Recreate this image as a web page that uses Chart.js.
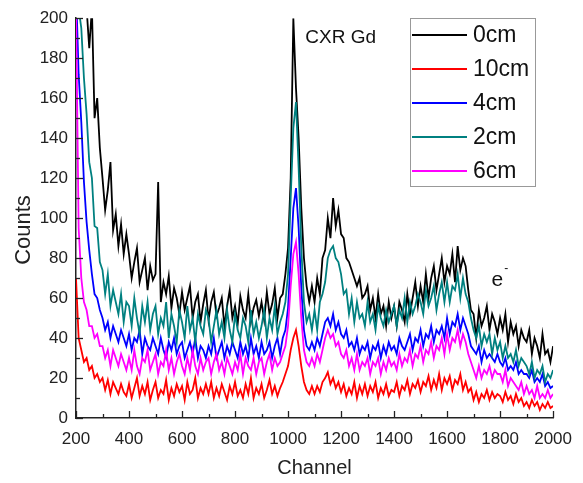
<!DOCTYPE html>
<html>
<head>
<meta charset="utf-8">
<title>Spectra</title>
<script src="https://cdn.jsdelivr.net/npm/chart.js@4.4.1/dist/chart.umd.min.js"></script>
<style>
  html, body { margin: 0; padding: 0; background: #fff; }
  #wrap { width: 583px; height: 483px; }
</style>
</head>
<body>
<div id="wrap"><canvas id="spectrum"></canvas></div>
<script>
// channel grid (every 10 channels, 200 .. 2000)
const channels = [];
for (let c = 200; c <= 2000; c += 10) channels.push(c);

// counts, one row = 100 channels
const counts0cm = [
  290, 270, 250, 225, 205, 185, 205, 150, 160, 135,
  120, 104, 114, 128, 94, 102, 86, 97, 82, 92,
  82, 70, 78, 85, 68, 74, 80, 64, 76, 69,
  72, 118, 58, 68, 62, 71, 55, 65, 60, 52,
  63, 54, 60, 66, 50, 58, 62, 48, 57, 64,
  49, 58, 63, 51, 55, 60, 46, 56, 64, 50,
  56, 47, 61, 54, 50, 62, 48, 55, 59, 51,
  58, 49, 63, 52, 57, 65, 50, 60, 62, 72,
  85, 120, 200, 165, 140, 105, 80, 66, 58, 66,
  58, 70, 62, 80, 84, 100, 90, 110, 96, 104,
  92, 90, 80, 78, 74, 70, 66, 70, 60, 62,
  66, 54, 60, 50, 62, 52, 56, 46, 58, 50,
  56, 46, 58, 54, 48, 62, 52, 60, 68, 56,
  66, 58, 72, 60, 70, 76, 64, 72, 80, 68,
  76, 72, 82, 68, 86, 74, 80, 76, 64, 54,
  52, 40, 54, 46, 50, 56, 44, 52, 48, 42,
  50, 44, 52, 38, 48, 42, 46, 36, 44, 40,
  38, 44, 32, 40, 36, 30, 42, 32, 34, 28,
  36
];
const counts10cm = [
  70, 40, 34, 28, 30, 24, 26, 20, 22, 18,
  20, 14, 19, 12, 18, 15, 12, 17, 13, 11,
  17, 10, 15, 20, 11, 16, 12, 18, 9, 14,
  18, 10, 14, 12, 19, 9, 15, 11, 17, 13,
  16, 9, 18, 12, 14, 20, 10, 15, 12, 17,
  12, 18, 10, 15, 11, 17, 13, 9, 16, 12,
  18, 11, 14, 10, 17, 12, 20, 10, 15, 12,
  17, 10, 14, 19, 12, 16, 11, 15, 18, 22,
  26, 34, 40, 44, 36, 26, 18, 14, 12, 16,
  12, 16, 13, 18, 20, 23, 17, 20, 15, 18,
  13, 17, 11, 15, 12, 18, 10, 16, 12, 17,
  11, 16, 13, 18, 10, 15, 12, 17, 11, 14,
  13, 18, 11, 16, 14, 19, 12, 17, 15, 19,
  13, 18, 16, 21, 14, 19, 15, 22, 14, 20,
  17, 21, 14, 19, 17, 22, 14, 18, 13, 15,
  9, 13, 8, 12, 10, 14, 9, 13, 10, 12,
  11, 8, 13, 9, 11, 7, 12, 8, 10, 6,
  8, 5, 9, 6, 8, 4, 7, 5, 8, 5,
  6
];
const counts4cm = [
  215, 172, 148, 118, 98, 84, 72, 62, 60, 54,
  50, 44, 48, 40, 46, 42, 38, 44, 40, 36,
  42, 34, 40, 38, 44, 32, 40, 36, 34, 40,
  36, 32, 40, 34, 30, 38, 34, 40, 32, 36,
  38, 30, 34, 38, 32, 40, 30, 36, 34, 30,
  36, 32, 40, 30, 34, 38, 30, 36, 32, 38,
  34, 30, 38, 32, 36, 30, 40, 32, 36, 30,
  38, 32, 34, 38, 30, 36, 40, 32, 40, 44,
  55, 80, 105, 115, 95, 65, 44, 36, 34, 38,
  34, 40, 36, 42, 48, 50, 46, 52, 44, 48,
  42, 40, 44, 36, 38, 34, 40, 32, 36, 34,
  38, 30, 36, 34, 38, 30, 36, 32, 38, 34,
  36, 32, 40, 36, 34, 38, 42, 34, 40, 38,
  44, 36, 42, 40, 46, 38, 44, 42, 46, 40,
  50, 42, 48, 46, 52, 44, 50, 46, 42, 36,
  34, 32, 36, 28, 34, 30, 32, 30, 28, 32,
  28, 26, 30, 24, 26, 24, 28, 22, 24, 22,
  22, 20, 24, 18, 20, 18, 22, 16, 18, 15,
  16
];
const counts2cm = [
  230, 205, 195, 170, 152, 128, 120, 96, 95, 78,
  74, 62, 72, 56, 64, 58, 52, 62, 48, 58,
  56, 46, 60, 50, 42, 56, 48, 58, 44, 52,
  56, 42, 50, 46, 58, 40, 52, 46, 38, 54,
  48, 40, 56, 44, 50, 38, 52, 46, 42, 54,
  50, 38, 46, 54, 42, 48, 40, 54, 44, 38,
  52, 44, 40, 50, 46, 38, 54, 42, 48, 40,
  46, 54, 40, 50, 44, 56, 42, 48, 52, 58,
  72, 110, 145, 158, 125, 85, 58, 48, 52, 44,
  54, 44, 58, 62, 68, 80, 84, 86, 80, 78,
  72, 62, 64, 52, 60, 48, 58, 50, 52, 46,
  58, 48, 52, 44, 56, 50, 46, 54, 48, 52,
  56, 46, 54, 50, 60, 48, 58, 52, 56, 62,
  58, 52, 64, 56, 60, 66, 54, 62, 68, 58,
  68, 58, 66, 64, 72, 60, 70, 62, 58, 50,
  44, 40, 46, 36, 42, 38, 42, 32, 40, 34,
  38, 30, 36, 30, 32, 28, 34, 26, 30, 28,
  26, 22, 28, 20, 24, 22, 26, 18, 22, 20,
  24
];
const counts6cm = [
  205, 95, 70, 58, 54, 46, 46, 40, 42, 36,
  36, 30, 34, 26, 34, 30, 26, 32, 28, 24,
  30, 24, 34, 26, 22, 30, 28, 34, 24, 28,
  32, 22, 28, 26, 34, 24, 30, 22, 28, 32,
  26, 22, 30, 24, 34, 26, 22, 30, 24, 28,
  30, 22, 28, 32, 24, 28, 22, 30, 26, 22,
  28, 24, 32, 22, 30, 26, 24, 30, 22, 28,
  30, 22, 28, 32, 24, 30, 26, 28, 32, 36,
  46, 66, 82, 88, 72, 50, 34, 28, 26, 30,
  26, 32, 28, 34, 40, 44, 40, 42, 36, 38,
  32, 30, 34, 26, 30, 24, 32, 24, 28, 26,
  30, 22, 28, 26, 30, 22, 28, 24, 30, 26,
  28, 24, 32, 26, 30, 28, 34, 26, 32, 30,
  36, 28, 34, 32, 38, 30, 36, 34, 40, 32,
  42, 34, 40, 38, 44, 36, 42, 38, 32, 28,
  24, 20, 26, 20, 24, 22, 26, 20, 24, 22,
  22, 18, 24, 16, 20, 18, 16, 14, 18, 12,
  16, 12, 14, 10, 16, 10, 12, 10, 14, 10,
  12
];

const seriesLabels = ["0cm", "10cm", "4cm", "2cm", "6cm"];
const seriesColors = ["#000000", "#ff0000", "#0000ff", "#008080", "#ff00ff"];
const seriesCounts = [counts0cm, counts10cm, counts4cm, counts2cm, counts6cm];
// later curves sit on top, like in the original plot
const drawOrder = [5, 4, 3, 2, 1];

const FONT = "'Liberation Sans', Arial, sans-serif";

// inside ticks, y title, legend box and the two peak labels
const extras = {
    id: "extras",
    afterDraw(chart) {
        const ctx = chart.ctx;
        const xs = chart.scales.x;
        const ys = chart.scales.y;
        const area = chart.chartArea;

        ctx.save();
        ctx.strokeStyle = "#222";
        ctx.lineWidth = 1.3;
        // x ticks (major 200, minor 100), pointing inward
        for (let c = 200; c <= 2000; c += 100) {
            const px = Math.round(xs.getPixelForValue(c)) + 0.5;
            const len = c % 200 === 0 ? 7 : 4;
            ctx.beginPath();
            ctx.moveTo(px, area.bottom);
            ctx.lineTo(px, area.bottom - len);
            ctx.stroke();
        }
        // y ticks (major 20, minor 10)
        for (let v = 0; v <= 200; v += 10) {
            const py = Math.round(ys.getPixelForValue(v)) + 0.5;
            const len = v % 20 === 0 ? 7 : 4;
            ctx.beginPath();
            ctx.moveTo(area.left, py);
            ctx.lineTo(area.left + len, py);
            ctx.stroke();
        }

        // y axis title, sits a bit below the middle in the original
        ctx.save();
        ctx.translate(24, 230);
        ctx.rotate(-Math.PI / 2);
        ctx.fillStyle = "#222";
        ctx.font = "22px " + FONT;
        ctx.textAlign = "center";
        ctx.textBaseline = "middle";
        ctx.fillText("Counts", 0, 0);
        ctx.restore();

        // legend box
        ctx.fillStyle = "#fff";
        ctx.fillRect(410, 18, 125, 168);
        ctx.strokeStyle = "#999";
        ctx.lineWidth = 1;
        ctx.strokeRect(410.5, 18.5, 125, 168);
        ctx.font = "23px " + FONT;
        ctx.textBaseline = "middle";
        ctx.textAlign = "left";
        chart.data.datasets.forEach((ds, i) => {
            const y = 35 + i * 34;
            ctx.strokeStyle = ds.borderColor;
            ctx.lineWidth = 2;
            ctx.beginPath();
            ctx.moveTo(412, y);
            ctx.lineTo(467, y);
            ctx.stroke();
            ctx.fillStyle = "#111";
            ctx.fillText(ds.label, 473, y + 1);
        });

        // peak labels
        ctx.fillStyle = "#111";
        ctx.font = "19px " + FONT;
        ctx.fillText("CXR Gd", xs.getPixelForValue(1065), ys.getPixelForValue(190));
        ctx.font = "21px " + FONT;
        const ex = xs.getPixelForValue(1768);
        const ey = ys.getPixelForValue(69);
        ctx.fillText("e", ex, ey);
        ctx.font = "12px " + FONT;
        ctx.fillText("-", ex + ctx.measureText("e").width + 6, ey - 11);
        ctx.restore();
    }
};

window.onload = function () {
    let ctx = document.getElementById("spectrum").getContext("2d");

    let datasets = seriesLabels.map((label, i) => ({
        label: label,
        data: seriesCounts[i].map((v, k) => ({ x: channels[k], y: v })),
        borderColor: seriesColors[i],
        backgroundColor: seriesColors[i],
        borderWidth: 1.8,
        pointRadius: 0,
        tension: 0,
        order: drawOrder[i]
    }));

    window.spectrumChart = new Chart(ctx, {
        type: "line",
        data: { datasets: datasets },
        options: {
            responsive: true,
            maintainAspectRatio: false,
            animation: false,
            layout: { padding: { top: 16, right: 27, left: 0, bottom: 0 } },
            plugins: {
                legend: { display: false },
                tooltip: { enabled: false }
            },
            scales: {
                x: {
                    type: "linear",
                    min: 200,
                    max: 2000,
                    afterFit: (s) => { s.height = 65; },
                    grid: { display: false, drawTicks: false },
                    border: { display: true, color: "#222", width: 1.5 },
                    ticks: {
                        stepSize: 200,
                        padding: 11,
                        color: "#222",
                        font: { family: FONT, size: 17 },
                        maxRotation: 0,
                        callback: (v) => String(v)
                    },
                    title: {
                        display: true,
                        text: "Channel",
                        color: "#222",
                        font: { family: FONT, size: 20 },
                        padding: { top: 0, bottom: 3 }
                    }
                },
                y: {
                    min: 0,
                    max: 200,
                    afterFit: (s) => { s.width = 76; },
                    grid: { display: false, drawTicks: false },
                    border: { display: true, color: "#222", width: 1.5 },
                    ticks: {
                        stepSize: 20,
                        padding: 8,
                        color: "#222",
                        font: { family: FONT, size: 17 },
                        callback: (v) => String(v)
                    },
                    title: { display: false }
                }
            }
        },
        plugins: [extras]
    });
};
</script>
</body>
</html>
